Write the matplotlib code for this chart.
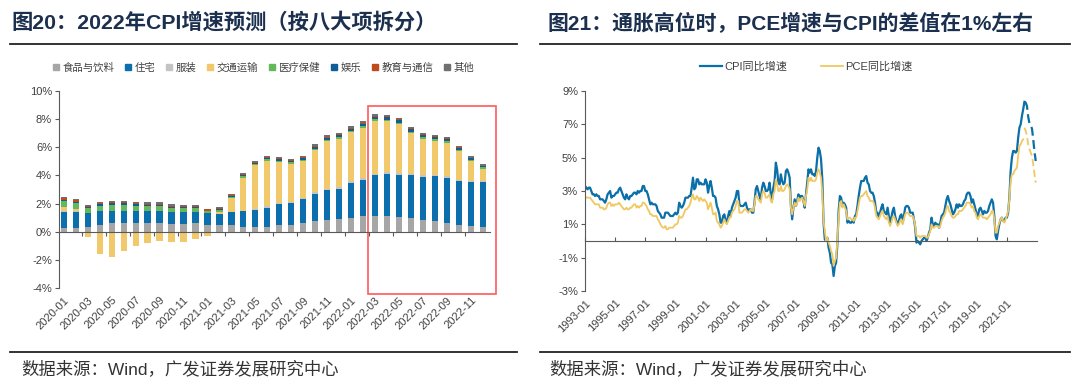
import numpy as np
import pandas as pd
import matplotlib
matplotlib.use('Agg')
import matplotlib.pyplot as plt
from matplotlib.lines import Line2D
from matplotlib.patches import Rectangle

plt.rcParams['font.family'] = ['Liberation Sans', 'Noto Sans CJK SC']
plt.rcParams['axes.unicode_minus'] = False

# ---- left chart: CPI contribution by component, 2020-01 .. 2022-12 (%)
months_left = pd.date_range('2020-01', periods=36, freq='MS').strftime('%Y-%m').tolist()
food = [0.25, 0.25, 0.3, 0.5, 0.6, 0.65, 0.6, 0.6, 0.6, 0.55, 0.55, 0.6, 0.5, 0.5, 0.5, 0.3, 0.3, 0.35,
        0.5, 0.5, 0.65, 0.75, 0.85, 0.9, 1.0, 1.15, 1.15, 1.1, 1.05, 0.95, 0.85, 0.75, 0.65, 0.5, 0.4, 0.3]
housing = [1.18, 1.18, 1.0, 0.95, 0.9, 0.85, 0.85, 0.85, 0.85, 0.85, 0.85, 0.8, 0.8, 0.75, 0.9, 1.15, 1.25, 1.35,
           1.45, 1.55, 1.7, 1.95, 2.1, 2.15, 2.45, 2.55, 2.85, 3.0, 3.0, 3.05, 3.05, 3.2, 3.2, 3.1, 3.1, 3.2]
clothing = [0.02, 0.02, 0, 0, 0, 0, 0, 0, 0, 0, 0, 0, 0, 0, 0.02, 0.05, 0.08, 0.1,
            0.1, 0.08, 0.08, 0.1, 0.1, 0.12, 0.12, 0.13, 0.13, 0.12, 0.12, 0.1, 0.1, 0.1, 0.08, 0.08, 0.07, 0.07]
transport = [0.34, 0.19, -0.4, -1.6, -1.8, -1.4, -1.05, -0.8, -0.65, -0.7, -0.7, -0.5, -0.3, 0.16, 0.96, 2.34,
             3.08, 3.26, 2.89, 2.71, 2.61, 2.99, 3.37, 3.45, 3.5, 3.55, 3.75, 3.62, 3.47, 2.9, 2.62, 2.43, 2.4,
             2.04, 1.44, 0.91]
medical = [0.4, 0.4, 0.35, 0.4, 0.4, 0.4, 0.4, 0.35, 0.35, 0.3, 0.25, 0.25, 0.15, 0.15, 0.12, 0.1, 0.08, 0.08,
           0.08, 0.08, 0.08, 0.1, 0.1, 0.1, 0.1, 0.12, 0.12, 0.12, 0.12, 0.12, 0.12, 0.12, 0.12, 0.12, 0.12, 0.12]
recreation = [0.08, 0.08, 0.08, 0.1, 0.12, 0.12, 0.1, 0.1, 0.1, 0.08, 0.08, 0.08, 0.05, 0.05, 0.06, 0.08, 0.1, 0.1,
              0.12, 0.12, 0.12, 0.15, 0.15, 0.15, 0.15, 0.17, 0.17, 0.17, 0.17, 0.17, 0.15, 0.15, 0.15, 0.12, 0.12, 0.1]
education = [0.1, 0.1, 0.08, 0.1, 0.1, 0.1, 0.1, 0.1, 0.1, 0.08, 0.08, 0.08, 0.08, 0.08, 0.08, 0.1, 0.08, 0.08,
             0.08, 0.08, 0.08, 0.08, 0.08, 0.08, 0.08, 0.08, 0.08, 0.07, 0.07, 0.06, 0.06, 0.05, 0.05, 0.04, -0.04, -0.05]
other = [0.08, 0.08, 0.08, 0.08, 0.08, 0.08, 0.08, 0.08, 0.08, 0.08, 0.08, 0.08, 0.06, 0.06, 0.06, 0.08, 0.08, 0.08,
         0.08, 0.08, 0.08, 0.08, 0.1, 0.1, 0.1, 0.1, 0.1, 0.1, 0.1, 0.1, 0.1, 0.1, 0.1, 0.1, 0.1, 0.1]

components = [('食品与饮料', food, '#a6a6a6'),
              ('住宅', housing, '#0b6fad'),
              ('服装', clothing, '#c4c4c4'),
              ('交通运输', transport, '#f2c96a'),
              ('医疗保健', medical, '#62b85a'),
              ('娱乐', recreation, '#105e97'),
              ('教育与通信', education, '#bf4a1c'),
              ('其他', other, '#707070')]

# ---- right chart: US CPI and PCE yoy, monthly 1993-01 .. 2022-12 (%)
cpi_by_year = [
    [3.3, 3.2, 3.1, 3.2, 3.2, 3.0, 2.8, 2.8, 2.7, 2.8, 2.7, 2.7],
    [2.5, 2.5, 2.5, 2.4, 2.3, 2.5, 2.8, 2.9, 3.0, 2.6, 2.7, 2.7],
    [2.8, 2.9, 2.9, 3.1, 3.2, 3.0, 2.8, 2.6, 2.5, 2.8, 2.6, 2.5],
    [2.7, 2.7, 2.8, 2.9, 2.9, 2.8, 3.0, 2.9, 3.0, 3.0, 3.3, 3.3],
    [3.0, 3.0, 2.8, 2.5, 2.2, 2.3, 2.2, 2.2, 2.2, 2.1, 1.8, 1.7],
    [1.6, 1.4, 1.4, 1.4, 1.7, 1.7, 1.7, 1.6, 1.5, 1.5, 1.5, 1.6],
    [1.7, 1.6, 1.7, 2.3, 2.1, 2.0, 2.1, 2.3, 2.6, 2.6, 2.6, 2.7],
    [2.7, 3.2, 3.8, 3.1, 3.2, 3.7, 3.7, 3.4, 3.5, 3.4, 3.4, 3.4],
    [3.7, 3.5, 2.9, 3.3, 3.6, 3.2, 2.7, 2.7, 2.6, 2.1, 1.9, 1.6],
    [1.1, 1.1, 1.5, 1.6, 1.2, 1.1, 1.5, 1.8, 1.5, 2.0, 2.2, 2.4],
    [2.6, 3.0, 3.0, 2.2, 2.1, 2.1, 2.1, 2.2, 2.3, 2.0, 1.8, 1.9],
    [1.9, 1.7, 1.7, 2.3, 3.1, 3.3, 3.0, 2.7, 2.5, 3.2, 3.5, 3.3],
    [3.0, 3.0, 3.1, 3.5, 2.8, 2.5, 3.2, 3.6, 4.7, 4.3, 3.5, 3.4],
    [4.0, 3.6, 3.4, 3.5, 4.2, 4.3, 4.1, 3.8, 2.1, 1.3, 2.0, 2.5],
    [2.1, 2.4, 2.8, 2.6, 2.7, 2.7, 2.4, 2.0, 2.8, 3.5, 4.3, 4.1],
    [4.3, 4.0, 4.0, 3.9, 4.2, 5.0, 5.6, 5.4, 4.9, 3.7, 1.1, 0.1],
    [0.0, 0.2, -0.4, -0.7, -1.3, -1.4, -2.1, -1.5, -1.3, -0.2, 1.8, 2.7],
    [2.6, 2.1, 2.3, 2.2, 2.0, 1.1, 1.2, 1.1, 1.1, 1.2, 1.1, 1.5],
    [1.6, 2.1, 2.7, 3.2, 3.6, 3.6, 3.6, 3.8, 3.9, 3.5, 3.4, 3.0],
    [2.9, 2.9, 2.7, 2.3, 1.7, 1.7, 1.4, 1.7, 2.0, 2.2, 1.8, 1.7],
    [1.6, 2.0, 1.5, 1.1, 1.4, 1.8, 2.0, 1.5, 1.2, 1.0, 1.2, 1.5],
    [1.6, 1.1, 1.5, 2.0, 2.1, 2.1, 2.0, 1.7, 1.7, 1.7, 1.3, 0.8],
    [-0.1, 0.0, -0.1, -0.2, 0.0, 0.1, 0.2, 0.2, 0.0, 0.2, 0.5, 0.7],
    [1.4, 1.0, 0.9, 1.1, 1.0, 1.0, 0.8, 1.1, 1.5, 1.6, 1.7, 2.1],
    [2.5, 2.7, 2.4, 2.2, 1.9, 1.6, 1.7, 1.9, 2.2, 2.0, 2.2, 2.1],
    [2.1, 2.2, 2.4, 2.5, 2.8, 2.9, 2.9, 2.7, 2.3, 2.5, 2.2, 1.9],
    [1.6, 1.5, 1.9, 2.0, 1.8, 1.6, 1.8, 1.7, 1.7, 1.8, 2.1, 2.3],
    [2.5, 2.3, 1.5, 0.3, 0.1, 0.6, 1.0, 1.3, 1.4, 1.2, 1.2, 1.4],
    [1.4, 1.7, 2.6, 4.2, 5.0, 5.4, 5.4, 5.3, 5.4, 6.2, 6.8, 7.0],
    [7.5, 7.9],
]
cpi_forecast = [8.35, 8.3, 8.1, 7.45, 7.05, 6.9, 6.75, 6.1, 5.35, 4.8]

pce_by_year = [
    [2.7, 2.6, 2.6, 2.6, 2.6, 2.5, 2.4, 2.3, 2.2, 2.2, 2.2, 2.2],
    [2.0, 2.0, 2.0, 1.9, 1.9, 2.0, 2.2, 2.3, 2.3, 2.1, 2.2, 2.1],
    [2.2, 2.2, 2.2, 2.3, 2.2, 2.1, 2.0, 1.9, 1.9, 2.0, 1.9, 1.9],
    [2.0, 2.0, 2.1, 2.2, 2.2, 2.0, 2.1, 2.0, 2.1, 2.1, 2.3, 2.3],
    [2.2, 2.1, 1.9, 1.8, 1.6, 1.6, 1.5, 1.5, 1.5, 1.5, 1.3, 1.2],
    [1.0, 0.9, 0.8, 0.8, 0.9, 0.7, 0.7, 0.8, 0.8, 0.8, 0.8, 0.9],
    [1.0, 1.0, 1.1, 1.5, 1.4, 1.4, 1.5, 1.7, 1.9, 1.9, 2.0, 2.1],
    [2.3, 2.6, 2.8, 2.5, 2.5, 2.7, 2.6, 2.4, 2.6, 2.5, 2.4, 2.5],
    [2.4, 2.3, 1.9, 2.1, 2.3, 2.0, 1.6, 1.6, 1.7, 1.2, 1.1, 1.0],
    [0.8, 0.9, 1.1, 1.3, 1.1, 1.0, 1.2, 1.4, 1.4, 1.7, 1.8, 1.9],
    [2.1, 2.4, 2.4, 1.7, 1.7, 1.7, 1.8, 1.9, 1.9, 1.8, 1.7, 1.8],
    [1.9, 1.8, 1.8, 2.2, 2.7, 2.7, 2.5, 2.4, 2.3, 2.8, 3.0, 2.9],
    [2.6, 2.6, 2.7, 2.8, 2.4, 2.3, 2.8, 3.0, 3.7, 3.4, 3.0, 3.0],
    [3.3, 3.0, 3.0, 3.1, 3.3, 3.4, 3.3, 3.1, 2.0, 1.6, 2.0, 2.3],
    [2.1, 2.3, 2.6, 2.4, 2.5, 2.6, 2.4, 2.1, 2.7, 3.1, 3.8, 3.6],
    [3.8, 3.6, 3.6, 3.6, 3.7, 4.1, 4.3, 4.1, 3.8, 2.9, 1.2, 0.6],
    [0.0, 0.2, -0.1, -0.3, -0.6, -0.8, -1.5, -1.2, -1.0, 0.0, 1.4, 2.3],
    [2.4, 2.0, 2.2, 2.0, 1.8, 1.3, 1.4, 1.4, 1.3, 1.3, 1.2, 1.4],
    [1.4, 1.8, 2.2, 2.6, 2.7, 2.7, 2.8, 2.9, 3.0, 2.7, 2.6, 2.4],
    [2.4, 2.4, 2.3, 2.0, 1.5, 1.4, 1.3, 1.5, 1.7, 1.8, 1.5, 1.4],
    [1.3, 1.5, 1.1, 0.9, 1.1, 1.4, 1.5, 1.3, 1.1, 0.9, 1.0, 1.2],
    [1.3, 1.0, 1.3, 1.6, 1.7, 1.7, 1.6, 1.5, 1.5, 1.5, 1.3, 0.9],
    [0.3, 0.3, 0.3, 0.2, 0.3, 0.3, 0.3, 0.3, 0.2, 0.2, 0.4, 0.6],
    [1.0, 0.8, 0.8, 0.9, 0.9, 0.9, 0.8, 0.9, 1.2, 1.4, 1.5, 1.7],
    [2.0, 2.1, 1.8, 1.7, 1.5, 1.4, 1.4, 1.5, 1.6, 1.6, 1.8, 1.8],
    [1.8, 1.9, 2.0, 2.1, 2.3, 2.3, 2.3, 2.2, 2.0, 2.1, 1.8, 1.7],
    [1.4, 1.3, 1.5, 1.6, 1.5, 1.4, 1.4, 1.4, 1.3, 1.4, 1.5, 1.6],
    [1.8, 1.8, 1.3, 0.5, 0.5, 0.9, 1.1, 1.3, 1.4, 1.2, 1.1, 1.3],
    [1.5, 1.8, 2.5, 3.6, 4.0, 4.0, 4.2, 4.3, 4.4, 5.1, 5.7, 5.8],
    [6.0, 6.1],
]
pce_forecast = [6.8, 6.6, 6.3, 5.8, 5.5, 5.3, 5.1, 4.6, 4.0, 3.5]

cpi_actual = [v for yr in cpi_by_year for v in yr]
pce_actual = [v for yr in pce_by_year for v in yr]
cpi = np.array(cpi_actual + cpi_forecast)
pce = np.array(pce_actual + pce_forecast)
n_act = len(cpi_actual)
months_right = pd.date_range('1993-01', periods=len(cpi), freq='MS').strftime('%Y-%m').tolist()

blue = '#0b6fa8'
yellow = '#f0c862'
axis_col = '#595959'
text_col = '#404040'

fig = plt.figure(figsize=(10.8, 3.88), dpi=100)

# titles, rules, source notes
fig.text(0.011, 0.943, '图20：2022年CPI增速预测（按八大项拆分）', fontsize=15.3, fontweight='bold',
         color='#1b2f4e', va='center')
fig.text(0.507, 0.943, '图21：通胀高位时，PCE增速与CPI的差值在1%左右', fontsize=15, fontweight='bold',
         color='#1b2f4e', va='center')
for x0, x1 in [(10, 517), (540, 1070)]:
    fig.add_artist(Line2D([x0 / 1080, x1 / 1080], [0.887, 0.887], color='#222222', lw=1.3))
    fig.add_artist(Line2D([x0 / 1080, x1 / 1080], [0.093, 0.093], color='#222222', lw=1.3))
fig.text(0.020, 0.050, '数据来源：Wind，广发证券发展研究中心', fontsize=12.5, color='#333333', va='center')
fig.text(0.509, 0.050, '数据来源：Wind，广发证券发展研究中心', fontsize=12.5, color='#333333', va='center')


def style_axis(ax):
    for s in ['top', 'right']:
        ax.spines[s].set_visible(False)
    ax.spines['left'].set_color(axis_col)
    ax.spines['bottom'].set_color(axis_col)
    ax.spines['bottom'].set_position(('data', 0))
    ax.tick_params(axis='y', direction='out', length=3, color=axis_col, labelsize=8, labelcolor=text_col, pad=2)
    ax.tick_params(axis='x', labelbottom=False, color=axis_col)


# ---- left chart
ax1 = fig.add_axes([59 / 1080, 1 - 288 / 388, 431 / 1080, 197 / 388])
x = np.arange(len(months_left))
pos_base = np.zeros(len(x))
neg_base = np.zeros(len(x))
handles = []
for name, vals, col in components:
    v = np.array(vals)
    base = np.where(v >= 0, pos_base, neg_base)
    ax1.bar(x, v, 0.52, bottom=base, color=col, linewidth=0)
    pos_base = pos_base + np.where(v >= 0, v, 0)
    neg_base = neg_base + np.where(v < 0, v, 0)
    handles.append(Line2D([], [], marker='s', linestyle='none', color=col, markersize=4, label=name))

ax1.set_xlim(-0.4, 35.6)
ax1.set_ylim(-4, 10)
ax1.set_yticks(range(-4, 11, 2))
ax1.set_yticklabels([f'{t}%' for t in range(-4, 11, 2)])
style_axis(ax1)
ax1.set_xticks(np.arange(1.5, 35, 2))
ax1.tick_params(axis='x', direction='out', length=3)
sec1 = ax1.secondary_xaxis(0.0)
sec1.spines['bottom'].set_visible(False)
sec1.set_xticks(x[::2])
sec1.set_xticklabels(months_left[::2], rotation=45, ha='right', rotation_mode='anchor', fontsize=8,
                     color=text_col)
sec1.tick_params(length=0, pad=5)
ax1.add_patch(Rectangle((25.4, -4.43), 10.7, 13.36, fill=False, edgecolor='#ff5a5a', lw=1.2, clip_on=False))
fig.legend(handles=handles, loc='center', bbox_to_anchor=(0.244, 0.825), ncol=8, frameon=False, fontsize=7.5,
           handlelength=0.6, handletextpad=0.3, columnspacing=1.05, labelcolor=text_col)

# ---- right chart
ax2 = fig.add_axes([585 / 1080, 1 - 291 / 388, 452 / 1080, 200 / 388])
xr = np.arange(len(cpi))
ax2.plot(xr[:n_act + 1], cpi[:n_act + 1], color=blue, lw=1.6, label='CPI同比增速')
ax2.plot(xr[n_act:], cpi[n_act:], color=blue, lw=1.6, linestyle=(0, (4, 2)))
ax2.plot(xr[:n_act], pce[:n_act], color=yellow, lw=1.3, label='PCE同比增速')
ax2.plot(xr[n_act:], pce[n_act:], color=yellow, lw=1.3, linestyle=(0, (4, 2)))
ax2.set_xlim(0, len(cpi))
ax2.set_ylim(-3, 9)
ax2.set_yticks(range(-3, 10, 2))
ax2.set_yticklabels([f'{t}%' for t in range(-3, 10, 2)])
style_axis(ax2)
ax2.set_xticks(xr[::24])
ax2.tick_params(axis='x', direction='in', length=3)
sec2 = ax2.secondary_xaxis(0.0)
sec2.spines['bottom'].set_visible(False)
sec2.set_xticks(xr[:337:24])
sec2.set_xticklabels(months_right[:337:24], rotation=45, ha='right', rotation_mode='anchor', fontsize=8,
                     color=text_col)
sec2.tick_params(length=0, pad=5)
ax2.legend(loc='center', bbox_to_anchor=(0.49, 1.12), ncol=2, frameon=False, fontsize=8,
           handlelength=2.0, handletextpad=0.2, columnspacing=3.0, labelcolor=text_col)

fig.savefig('out.png', dpi=100)
